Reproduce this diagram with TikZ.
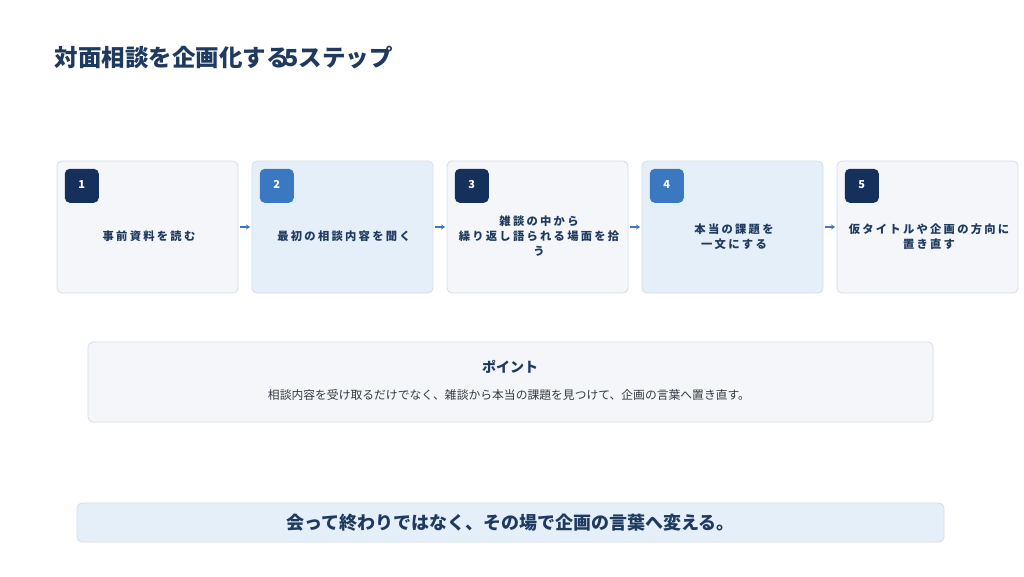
\documentclass[tikz,border=0pt]{standalone}
\usepackage{fontspec}
\setmainfont{Noto Sans CJK JP}
\newfontfamily\spacedfont[LetterSpace=20]{Noto Sans CJK JP}
\usetikzlibrary{positioning,arrows.meta}
\definecolor{navy}{HTML}{15305A}
\definecolor{midblue}{HTML}{3B78C2}
\definecolor{inkblue}{HTML}{1F3A5F}
\definecolor{darktext}{HTML}{333A45}
\definecolor{palegray}{HTML}{F4F6F9}
\definecolor{paleblue}{HTML}{E5EFF9}
\definecolor{edgegray}{HTML}{D5DDE8}

\begin{document}
\begin{tikzpicture}[x=1pt,y=-1pt,
  stepbox/.style={draw=edgegray, line width=0.8pt, rounded corners=5pt, minimum width=181pt, minimum height=132pt, inner sep=0pt},
  badge/.style={rounded corners=5pt, minimum size=34pt, inner sep=0pt, text=white, font=\bfseries\fontsize{11}{11}\selectfont},
  steptext/.style={text=inkblue, font=\spacedfont\bfseries\fontsize{11.3}{15}\selectfont, align=center},
  flow/.style={-{Stealth[length=4pt,width=5pt]}, midblue, line width=1.3pt, shorten >=1.5pt, shorten <=1.5pt}]
\useasboundingbox[fill=white] (0,0) rectangle (1024,576);
\node[anchor=west, text=inkblue, font=\bfseries\fontsize{23.5}{23.5}\selectfont] (title) at (51,58) {対面相談を企画化する\kern-5pt 5ステップ};
% five steps
\foreach \i/\bg/\bd/\txt in {1/palegray/navy/{事前資料を読む},
    2/paleblue/midblue/{最初の相談内容を聞く},
    3/palegray/navy/{雑談の中から\\繰り返し語られる場面を拾\\う},
    4/paleblue/midblue/{本当の課題を\\一文にする},
    5/palegray/navy/{仮タイトルや企画の方向に\\置き直す}} {
  \node[stepbox, fill=\bg] (s\i) at ({147.5+195*(\i-1)},227) {};
  \node[badge, fill=\bd, below right=8pt and 8pt of s\i.north west] (n\i) {\raisebox{3pt}{\i}};
  \node[steptext] (t\i) at ([xshift=1.5pt,yshift=-9.5pt]s\i.center) {\txt};
}
\foreach \i in {1,...,4} {
  \pgfmathtruncatemacro{\j}{\i+1}
  \draw[flow] (s\i.east) -- (s\j.west);
}
% point
\node[draw=edgegray, fill=palegray, line width=0.8pt, rounded corners=5pt, minimum width=845pt, minimum height=80pt] (point) at (510.5,382) {};
\node[text=inkblue, font=\bfseries\fontsize{14}{14}\selectfont] (pointtitle) at (510,367) {ポイント};
\node[text=darktext, font=\fontsize{11.8}{11.8}\selectfont] (pointbody) at (509,395) {相談内容を受け取るだけでなく、雑談から本当の課題を見つけて、企画の言葉へ置き直す。};
% closing line
\node[draw=edgegray, fill=paleblue, line width=0.8pt, rounded corners=5pt, minimum width=867pt, minimum height=39pt, text=inkblue, font=\bfseries\fontsize{18}{18}\selectfont] (banner) at (510.5,522.5) {会って終わりではなく、その場で企画の言葉へ変える。};
\end{tikzpicture}
\end{document}
